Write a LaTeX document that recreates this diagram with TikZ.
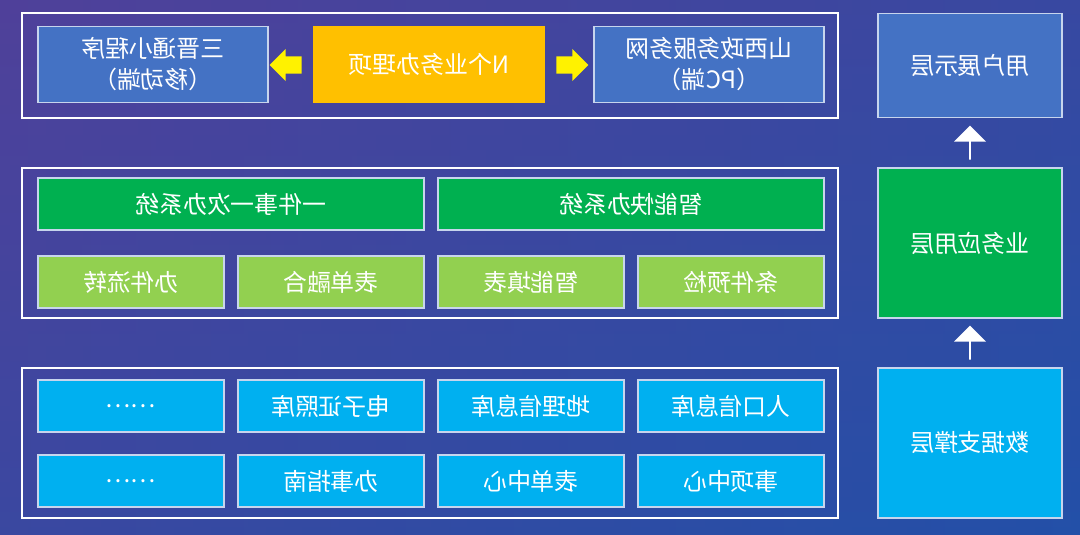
\documentclass[tikz,border=0pt]{standalone}
\usepackage{fontspec}
\setmainfont{Noto Sans CJK SC}
\usetikzlibrary{shapes.arrows}
\definecolor{bgpurple}{HTML}{5E3C96}
\definecolor{bgblue}{HTML}{2350A8}
\definecolor{showblue}{HTML}{4472C4}
\definecolor{bizgreen}{HTML}{00B050}
\definecolor{lightgreen}{HTML}{92D050}
\definecolor{datacyan}{HTML}{00B0F0}
\definecolor{itemyellow}{HTML}{FFC000}
\tikzset{
	box/.style={draw=white!70!showblue, line width=0.8pt, inner sep=0pt, text=white,
		font=\fontsize{17}{22}\selectfont, align=center, xscale=-1, transform shape},
	quarter/.style={box, minimum width=4.65cm, minimum height=1.3cm},
	half/.style={box, minimum width=9.65cm, minimum height=1.3cm},
	top/.style={box, minimum width=5.75cm, minimum height=1.92cm},
	layer/.style={box, minimum width=4.6cm},
	frame/.style={draw=white, line width=1pt},
	blockarrow/.style={single arrow, inner xsep=0pt, inner ysep=0.13cm, font=\tiny,
		minimum width=0.8cm, single arrow head extend=0.12cm},
	yarrow/.style={blockarrow, fill=yellow, minimum height=0.8cm},
	warrow/.style={blockarrow, fill=white, shape border rotate=90, minimum height=0.85cm}
}
\begin{document}
\begin{tikzpicture}[x=0.025cm,y=-0.025cm]
	\shade[left color=bgpurple, right color=bgblue] (0,0) rectangle (1080,534);
	\shade[top color=bgpurple!60!bgblue, bottom color=bgblue, opacity=0.6] (0,0) rectangle (1080,534);
	\useasboundingbox (0,0) rectangle (1080,534);
	%
	% frames
	%
	\draw[frame] (22,13) rectangle (838,118);
	\draw[frame] (22,168) rectangle (838,318);
	\draw[frame] (22,368) rectangle (838,518);
	%
	% top layer
	%
	\node[top, fill=showblue] (app) at (153,64.5) {三晋通小程序\\（移动端）};
	\node[top, fill=itemyellow, draw=itemyellow] (items) at (429,64.5) {N个业务办理项};
	\node[top, fill=showblue] (web) at (709,64.5) {山西政务服务网\\（PC端）};
	\node[yarrow, shape border rotate=180] (al) at (290,65) {};
	\node[yarrow] (ar) at (568,65) {};
	%
	% application layer
	%
	\node[half, fill=bizgreen] (once) at (231,204) {一件事一次办系统};
	\node[half, fill=bizgreen] (fast) at (631,204) {智能快办系统};
	\node[quarter, fill=lightgreen] (f1) at (131,282) {办件流转};
	\node[quarter, fill=lightgreen] (f2) at (331,282) {表单融合};
	\node[quarter, fill=lightgreen] (f3) at (531,282) {智能填表};
	\node[quarter, fill=lightgreen] (f4) at (731,282) {条件预检};
	%
	% data layer
	%
	\node[quarter, fill=datacyan] (d1) at (131,406) {……};
	\node[quarter, fill=datacyan] (d2) at (331,406) {电子证照库};
	\node[quarter, fill=datacyan] (d3) at (531,406) {地理信息库};
	\node[quarter, fill=datacyan] (d4) at (731,406) {人口信息库};
	\node[quarter, fill=datacyan] (e1) at (131,481) {……};
	\node[quarter, fill=datacyan] (e2) at (331,481) {办事指南};
	\node[quarter, fill=datacyan] (e3) at (531,481) {表单中心};
	\node[quarter, fill=datacyan] (e4) at (731,481) {事项中心};
	%
	% layers
	%
	\node[layer, minimum height=2.62cm, fill=showblue] (show) at (970,65.5) {用户展示层};
	\node[layer, minimum height=3.75cm, fill=bizgreen] (biz) at (970,243) {业务应用层};
	\node[layer, minimum height=3.75cm, fill=datacyan] (data) at (970,443) {数据支撑层};
	\node[warrow] (u1) at (970,143) {};
	\node[warrow] (u2) at (970,343) {};
\end{tikzpicture}
\end{document}
